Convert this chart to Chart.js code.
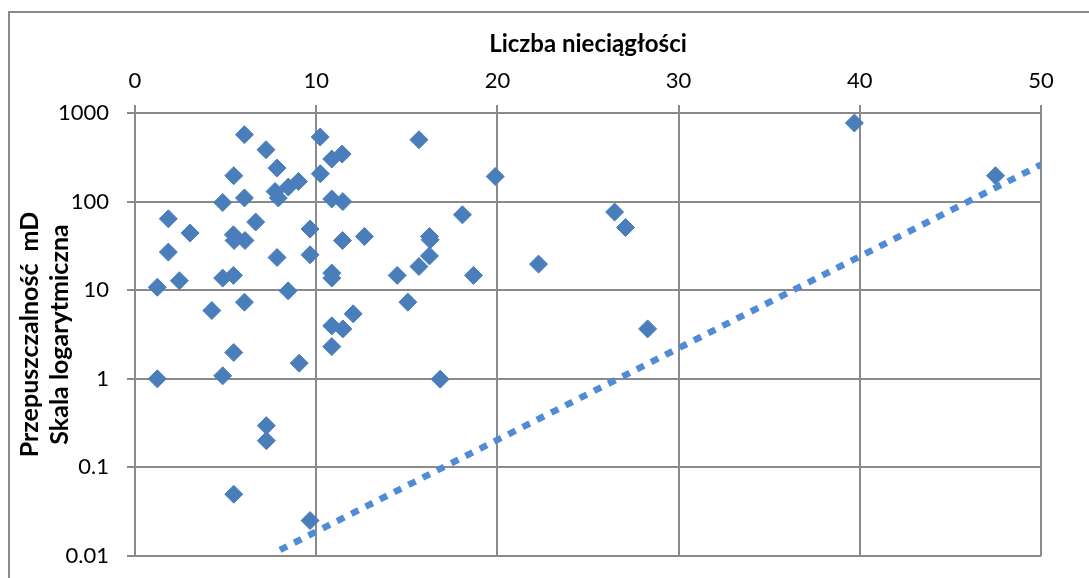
<!DOCTYPE html>
<html lang="pl">
<head>
<meta charset="utf-8">
<title>Przepuszczalność a liczba nieciągłości</title>
<script src="https://cdn.jsdelivr.net/npm/chart.js@4/dist/chart.umd.min.js"></script>
<style>
  html, body { margin: 0; padding: 0; background: #ffffff; }
  #wrap { width: 1089px; height: 578px; position: relative; }
  canvas { display: block; }
</style>
</head>
<body>
<div id="wrap"><canvas id="chart" width="1089" height="578"></canvas></div>
<script>
// Liczba nieciągłości (oś X)
const discontinuities = [
  6.04, 7.23, 5.45, 7.84, 7.73, 7.91, 8.46, 9.02, 4.84, 6.04,
  10.22, 10.86, 11.43, 10.23, 10.86, 11.47, 15.67, 1.84, 3.04, 1.84,
  5.43, 6.07, 5.47, 6.66, 9.66, 9.66, 7.84, 11.45, 12.66, 16.25,
  16.29, 16.25, 15.67, 14.47, 10.86, 10.86, 4.84, 5.43, 2.45, 1.23,
  8.45, 4.24, 6.04, 15.06, 12.04, 10.86, 11.47, 10.86, 5.45, 1.23,
  4.84, 9.06, 16.84, 7.25, 7.25, 5.45, 9.66, 19.88, 18.07, 26.47,
  27.07, 22.27, 18.68, 28.29, 39.7, 47.49
];

// Przepuszczalność [mD] (oś Y, skala logarytmiczna)
const permeability = [
  569, 385, 196, 239, 130, 110, 146, 169, 97.7, 110,
  536, 302, 344, 206, 107, 100, 499, 64, 44.2, 26.9,
  42.2, 36.4, 36.4, 58.8, 49, 25.1, 23.4, 36.4, 40.4, 40.4,
  37.1, 24.4, 18.5, 14.7, 15.6, 13.7, 13.7, 14.7, 12.8, 10.8,
  9.84, 5.89, 7.33, 7.33, 5.41, 3.96, 3.66, 2.31, 1.98, 1.0,
  1.08, 1.5, 0.99, 0.296, 0.2, 0.0498, 0.0251, 192, 71, 76.2,
  51, 19.7, 14.7, 3.66, 771, 196
];

// Linia trendu wykładniczego (punkty końcowe)
const trendX = [8.0, 50];
const trendY = [0.0117, 261];

// Podziałki osi
const xTicks = [0, 10, 20, 30, 40, 50];
const yTicks = [0.01, 0.1, 1, 10, 100, 1000];
const yTickLabels = ['0.01', '0.1', '1', '10', '100', '1000'];

const FONT = 'Lato, "Open Sans", "Liberation Sans", sans-serif';
const GRID = '#8a8a8a';
const MARKER = '#4a7ebb';
const TREND = '#4f8bd6';

const points = discontinuities.map((x, i) => ({ x: x, y: permeability[i] }));
const trend = trendX.map((x, i) => ({ x: x, y: trendY[i] }));

// Ramka obszaru wykresu
const framePlugin = {
  id: 'frame',
  beforeDraw(chart) {
    const ctx = chart.ctx;
    ctx.save();
    ctx.strokeStyle = GRID;
    ctx.lineWidth = 2;
    ctx.strokeRect(9, 12, chart.width + 20, chart.height + 20);
    ctx.restore();
  }
};

function noEdgePadding(scale) {
  scale.paddingTop = 0;
  scale.paddingBottom = 0;
  scale.paddingLeft = 0;
  scale.paddingRight = 0;
}

new Chart(document.getElementById('chart'), {
  type: 'scatter',
  data: {
    datasets: [
      {
        type: 'line',
        data: trend,
        borderColor: TREND,
        borderWidth: 6.5,
        borderDash: [8, 8],
        borderCapStyle: 'butt',
        pointRadius: 0,
        fill: false,
        order: 0
      },
      {
        data: points,
        pointStyle: 'rectRot',
        pointRadius: 9,
        pointHoverRadius: 9,
        backgroundColor: MARKER,
        borderColor: MARKER,
        borderWidth: 1,
        order: 1
      }
    ]
  },
  options: {
    responsive: false,
    devicePixelRatio: 1,
    animation: false,
    layout: { padding: { left: 0, top: 0, right: 48, bottom: 22 } },
    plugins: {
      legend: { display: false },
      tooltip: { enabled: false }
    },
    scales: {
      x: {
        type: 'linear',
        position: 'top',
        min: 0,
        max: 50,
        afterFit(scale) { scale.height = 113; noEdgePadding(scale); },
        afterBuildTicks(scale) { scale.ticks = xTicks.map(v => ({ value: v })); },
        ticks: {
          color: '#000000',
          font: { family: FONT, size: 22 },
          padding: 11,
          maxRotation: 0
        },
        grid: { color: GRID, lineWidth: 2, tickLength: 8, drawTicks: true },
        border: { display: true, color: GRID, width: 2 },
        title: {
          display: true,
          text: 'Liczba nieciągłości',
          color: '#000000',
          font: { family: FONT, size: 24, weight: 'bold', lineHeight: 1.2 },
          padding: { top: 30, bottom: 0 }
        }
      },
      y: {
        type: 'logarithmic',
        position: 'left',
        min: 0.01,
        max: 1000,
        afterFit(scale) { scale.width = 135; noEdgePadding(scale); },
        afterBuildTicks(scale) { scale.ticks = yTicks.map(v => ({ value: v })); },
        ticks: {
          color: '#000000',
          font: { family: FONT, size: 22 },
          padding: 18,
          callback(value) {
            const i = yTicks.indexOf(value);
            return i >= 0 ? yTickLabels[i] : '';
          }
        },
        grid: { color: GRID, lineWidth: 2, tickLength: 8, drawTicks: true },
        border: { display: true, color: GRID, width: 2 },
        title: {
          display: true,
          text: ['Przepuszczalność  mD', 'Skala logarytmiczna'],
          color: '#000000',
          font: { family: FONT, size: 25, weight: 'bold', lineHeight: 1.2 },
          padding: { top: 15, bottom: 0 }
        }
      }
    }
  },
  plugins: [framePlugin]
});
</script>
</body>
</html>
